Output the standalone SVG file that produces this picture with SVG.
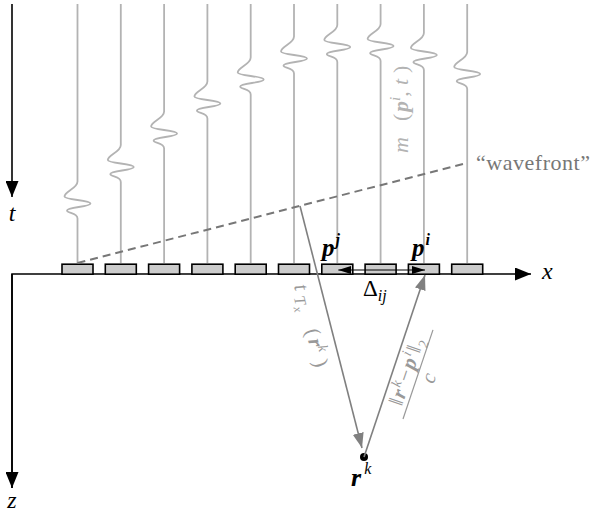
<svg xmlns="http://www.w3.org/2000/svg" width="593" height="512" viewBox="0 0 593 512">
<style>
.trace{fill:none;stroke:#b3b3b3;stroke-width:1.8}
.box{fill:#cccccc;stroke:#000;stroke-width:1.6}
.axis{stroke:#000;stroke-width:1.6;fill:none}
.ray{stroke:#808080;stroke-width:1.6;fill:none}
.wf{stroke:#777;stroke-width:2;stroke-dasharray:8 5;fill:none}
.m{font-family:"Liberation Serif","DejaVu Serif",serif;font-style:italic}
.b{font-weight:bold}
.up{font-style:normal}
</style>
<defs>
<marker id="ak" viewBox="0 0 16 13" refX="16" refY="6.5" markerWidth="16" markerHeight="13" markerUnits="userSpaceOnUse" orient="auto"><path d="M0,0 L16,6.5 L0,13 z" fill="#000"/></marker>
<marker id="ag" viewBox="0 0 15 11" refX="15" refY="5.5" markerWidth="15" markerHeight="11" markerUnits="userSpaceOnUse" orient="auto"><path d="M0,0 L15,5.5 L0,11 z" fill="#808080"/></marker>
<marker id="ad" viewBox="0 0 13 8" refX="13" refY="4" markerWidth="13" markerHeight="8" markerUnits="userSpaceOnUse" orient="auto-start-reverse"><path d="M0,0 L13,4 L0,8 z" fill="#000"/></marker>
</defs>

<g id="axes">
<line class="axis" x1="12" y1="4" x2="12" y2="197" marker-end="url(#ak)"/>
<path class="axis" d="M12,488 V274 H531" marker-end="url(#ak)"/>
<line class="axis" x1="12" y1="274" x2="12" y2="488" marker-end="url(#ak)"/>
<text class="m" x="12" y="221" font-size="24" text-anchor="middle">t</text>
<text class="m" x="12" y="508" font-size="24" text-anchor="middle">z</text>
<text class="m" x="542" y="279" font-size="24">x</text>
</g>

<g id="traces">
<path class="trace" d="M77.5,4 V181.5 C77.5,188.5 64.5,191.5 64.5,196.5 C64.5,200 90.5,200 90.5,203.5 C90.5,207 67,207 67,210.5 C67,213.5 77.5,212.5 77.5,218.5 V263"/>
<path class="trace" d="M120.8,4 V145 C120.8,152 107.8,155 107.8,160 C107.8,163.5 133.8,163.5 133.8,167 C133.8,170.5 110.3,170.5 110.3,174 C110.3,177 120.8,176 120.8,182 V263"/>
<path class="trace" d="M164.1,4 V111.5 C164.1,118.5 151.1,121.5 151.1,126.5 C151.1,130 177.1,130 177.1,133.5 C177.1,137 153.6,137 153.6,140.5 C153.6,143.5 164.1,142.5 164.1,148.5 V263"/>
<path class="trace" d="M207.4,4 V81.5 C207.4,88.5 194.4,91.5 194.4,96.5 C194.4,100 220.4,100 220.4,103.5 C220.4,107 196.9,107 196.9,110.5 C196.9,113.5 207.4,112.5 207.4,118.5 V263"/>
<path class="trace" d="M250.7,4 V57.5 C250.7,64.5 237.7,67.5 237.7,72.5 C237.7,76 263.7,76 263.7,79.5 C263.7,83 240.2,83 240.2,86.5 C240.2,89.5 250.7,88.5 250.7,94.5 V263"/>
<path class="trace" d="M294,4 V36.5 C294,43.5 281,46.5 281,51.5 C281,55 307,55 307,58.5 C307,62 283.5,62 283.5,65.5 C283.5,68.5 294,67.5 294,73.5 V263"/>
<path class="trace" d="M337.3,4 V25 C337.3,32 324.3,35 324.3,40 C324.3,43.5 350.3,43.5 350.3,47 C350.3,50.5 326.8,50.5 326.8,54 C326.8,57 337.3,56 337.3,62 V263"/>
<path class="trace" d="M380.6,4 V24 C380.6,31 367.6,34 367.6,39 C367.6,42.5 393.6,42.5 393.6,46 C393.6,49.5 370.1,49.5 370.1,53 C370.1,56 380.6,55 380.6,61 V263"/>
<path class="trace" d="M423.9,4 V33 C423.9,40 410.9,43 410.9,48 C410.9,51.5 436.9,51.5 436.9,55 C436.9,58.5 413.4,58.5 413.4,62 C413.4,65 423.9,64 423.9,70 V263"/>
<path class="trace" d="M467.2,4 V52 C467.2,59 454.2,62 454.2,67 C454.2,70.5 480.2,70.5 480.2,74 C480.2,77.5 456.7,77.5 456.7,81 C456.7,84 467.2,83 467.2,89 V263"/>
<text class="m" transform="translate(408,153) rotate(-90)" font-size="22" fill="#b3b3b3"><tspan x="0">m</tspan><tspan x="32" class="up">(</tspan><tspan x="41" class="b">p</tspan><tspan dy="-8" font-size="15">i</tspan><tspan dy="8" class="up">,</tspan><tspan x="68">t</tspan><tspan x="80" class="up">)</tspan></text>
</g>

<g id="sensors">
<rect class="box" x="62" y="264.2" width="31" height="10"/>
<rect class="box" x="105.3" y="264.2" width="31" height="10"/>
<rect class="box" x="148.6" y="264.2" width="31" height="10"/>
<rect class="box" x="191.9" y="264.2" width="31" height="10"/>
<rect class="box" x="235.2" y="264.2" width="31" height="10"/>
<rect class="box" x="278.5" y="264.2" width="31" height="10"/>
<rect class="box" x="321.8" y="264.2" width="31" height="10"/>
<rect class="box" x="365.1" y="264.2" width="31" height="10"/>
<rect class="box" x="408.4" y="264.2" width="31" height="10"/>
<rect class="box" x="451.7" y="264.2" width="31" height="10"/>
<text class="m b" x="322" y="256" font-size="25">p<tspan dy="-11" dx="1" font-size="16">j</tspan></text>
<text class="m b" x="412" y="256" font-size="25">p<tspan dy="-11" dx="1" font-size="16">i</tspan></text>
</g>

<g id="wavefront">
<line class="wf" x1="77.5" y1="263" x2="467" y2="163"/>
<text x="476" y="170" font-family="Liberation Serif, serif" font-size="22" fill="#777" textLength="114">“wavefront”</text>
</g>

<g id="source">
<circle cx="364" cy="457" r="4" fill="#000"/>
<text class="m b" x="351" y="486" font-size="26">r<tspan dy="-12" dx="3" font-size="16" font-weight="normal">k</tspan></text>
</g>

<g id="connectors">
<line class="ray" x1="300" y1="206" x2="362" y2="448" marker-end="url(#ag)"/>
<line class="ray" x1="364" y1="457" x2="425" y2="275" marker-end="url(#ag)"/>
<line x1="338.3" y1="270" x2="425" y2="270" stroke="#000" stroke-width="1" marker-start="url(#ad)" marker-end="url(#ad)"/>
<text x="363" y="296" font-family="Liberation Serif, serif" font-size="23">Δ<tspan class="m" font-size="16" dy="5">ij</tspan></text>
<text class="m" transform="translate(294,286) rotate(75.6)" font-size="21" fill="#999"><tspan x="0">t</tspan><tspan x="11" dy="3" font-size="16">T</tspan><tspan x="21" dy="3" font-size="12">x</tspan><tspan x="46" dy="-6" class="up">(</tspan><tspan x="56" class="b">r</tspan><tspan dy="-8" font-size="14">k</tspan><tspan x="78" dy="8" class="up">)</tspan></text>
<g transform="translate(403,419) rotate(-71.4)" fill="#999">
<line x1="0" y1="0" x2="94" y2="0" stroke="#999" stroke-width="1.2"/>
<text class="m" x="47" y="-5" font-size="21" text-anchor="middle" letter-spacing="1.5"><tspan class="up">‖</tspan><tspan class="b">r</tspan><tspan dy="-8" font-size="14">k</tspan><tspan dy="8" class="up">−</tspan><tspan class="b">p</tspan><tspan dy="-8" font-size="14">i</tspan><tspan dy="8" class="up">‖</tspan><tspan dy="5" font-size="14" class="up">2</tspan></text>
<text class="m" x="47" y="18" font-size="21" text-anchor="middle">c</text>
</g>
</g>
</svg>
